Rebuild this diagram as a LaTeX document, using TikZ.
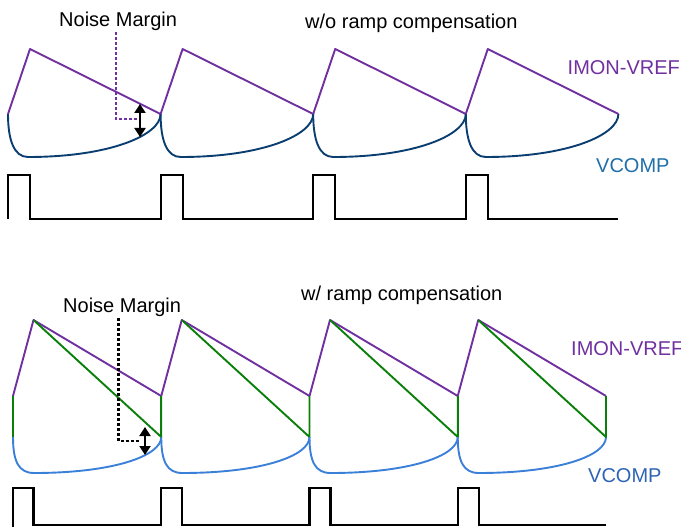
\documentclass[tikz,border=0pt]{standalone}
\usepackage{fontspec}
\setmainfont{Liberation Sans}
\usetikzlibrary{arrows.meta}
\definecolor{cpurple}{HTML}{7030A0}
\definecolor{cnavy}{HTML}{0A3D70}
\definecolor{cblue}{HTML}{3A7FD8}
\definecolor{cgreen}{HTML}{0A800A}
\definecolor{ctealtxt}{HTML}{1F6FA8}
\definecolor{cbluetxt}{HTML}{2E64B4}
\tikzset{
  wave/.style={line width=1.9pt, line join=round},
  pulse/.style={line width=2.2pt, black, line join=miter},
  marg/.style={line width=2.3pt, dash pattern=on 3pt off 2pt},
  dbl/.style={line width=2pt, {Triangle[width=11pt,length=9pt]}-{Triangle[width=11pt,length=9pt]}},
  lbl/.style={font=\fontsize{20}{22}\selectfont, inner sep=0pt, anchor=base west},
}
\begin{document}
\begin{tikzpicture}[x=1pt,y=-1pt]
\useasboundingbox (0,0) rectangle (681,527);
% ---------------- top panel ----------------
\foreach \v in {8,160.6,313.2,465.8} {
  \draw[wave,cnavy] (\v,114) .. controls (\v,140) and (\v+6,157) .. (\v+20,157)
     .. controls (\v+102,157) and (\v+152.6,135) .. (\v+152.6,114);
  \draw[wave,cpurple] (\v,114) -- (\v+22,49) -- (\v+152.6,114);
}
\draw[pulse] (8,219) -- (8,175) -- (30,175) -- (30,219)
  -- (160.6,219) -- (160.6,175) -- (182.6,175) -- (182.6,219)
  -- (313.2,219) -- (313.2,175) -- (335.2,175) -- (335.2,219)
  -- (465.8,219) -- (465.8,175) -- (487.8,175) -- (487.8,219) -- (618.4,219);
\coordinate (nmt) at (116,32);
\coordinate (nmtc) at (116,119);
\coordinate (nmte) at (137,119);
\draw[marg,cpurple] (nmt) -- (nmtc) -- (nmte);
\coordinate (at1) at (140,104);
\coordinate (ab1) at (140,137);
\draw[dbl] (at1) -- (ab1);
\node[lbl] (nm1) at (59,27) {Noise Margin};
\node[lbl] (ti1) at (305,29) {w/o ramp compensation};
\node[lbl,text=cpurple] (im1) at (567.5,75) {IMON-VREF};
\node[lbl,text=ctealtxt] (vc1) at (596,172) {VCOMP};
% ---------------- bottom panel ----------------
\foreach \v in {13,161.25,309.5,457.75} {
  \draw[wave,cblue] (\v,437) .. controls (\v,462) and (\v+6,473) .. (\v+21,473)
     .. controls (\v+100,473) and (\v+148.25,456) .. (\v+148.25,437);
  \draw[wave,cpurple] (\v,396) -- (\v+20.5,320) -- (\v+148.25,396);
  \draw[wave,cgreen] (\v+20.5,320) -- (\v+148.25,437) -- (\v+148.25,396);
  \draw[wave,cgreen] (\v,396) -- (\v,437);
}
\draw[pulse] (13,527) -- (13,488) -- (33.5,488) -- (33.5,525)
  -- (161.25,525) -- (161.25,488) -- (182,488) -- (182,525)
  -- (309.5,525) -- (309.5,488) -- (330.5,488) -- (330.5,525)
  -- (457.75,525) -- (457.75,488) -- (479,488) -- (479,525) -- (606,525);
\coordinate (nmb) at (118.5,318);
\coordinate (nmbc) at (118.5,441);
\coordinate (nmbe) at (140,441);
\draw[marg,black] (nmb) -- (nmbc) -- (nmbe);
\coordinate (at2) at (145,427);
\coordinate (ab2) at (145,455);
\draw[dbl] (at2) -- (ab2);
\node[lbl] (nm2) at (63,312) {Noise Margin};
\node[lbl] (ti2) at (301,300) {w/ ramp compensation};
\node[lbl,text=cpurple] (im2) at (571,355) {IMON-VREF};
\node[lbl,text=cbluetxt] (vc2) at (588,482) {VCOMP};
\end{tikzpicture}
\end{document}
